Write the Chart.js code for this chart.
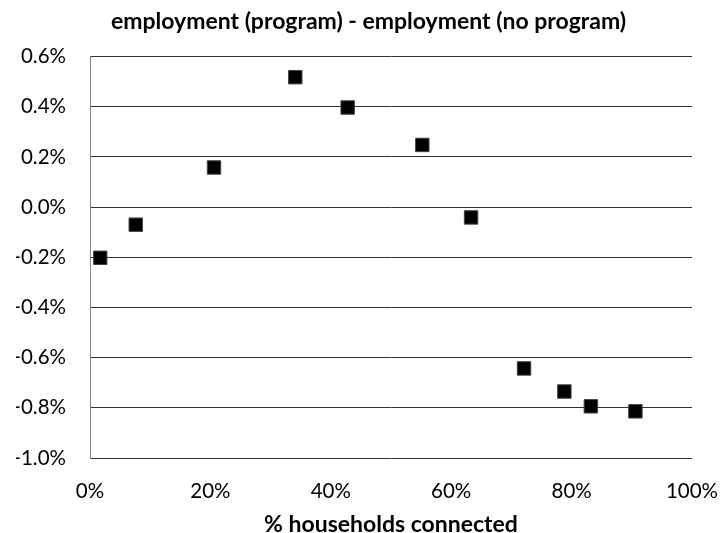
<!DOCTYPE html>
<html>
<head>
<meta charset="utf-8">
<script src="https://cdn.jsdelivr.net/npm/chart.js@4.4.0/dist/chart.umd.min.js"></script>
<style>
  html, body { margin: 0; padding: 0; background: #fff; }
  #wrap { width: 721px; height: 533px; }
</style>
</head>
<body>
<div id="wrap"><canvas id="scatterChart" width="721" height="533"></canvas></div>
<script>
// % households connected vs employment difference (in %)
const connected = [1.7, 7.6, 20.6, 34.1, 42.8, 55.2, 63.3, 72.1, 78.8, 83.2, 90.6];
const empDiff = [-0.202, -0.070, 0.158, 0.518, 0.397, 0.248, -0.041, -0.643, -0.735, -0.794, -0.814];

const xTicks = [0, 20, 40, 60, 80, 100];
const yTicks = [-1.0, -0.8, -0.6, -0.4, -0.2, 0.0, 0.2, 0.4, 0.6];

const fontFamily = 'Lato, "Noto Sans", sans-serif';

document.addEventListener('DOMContentLoaded', () => {
    const ctx = document.getElementById('scatterChart').getContext('2d');

    new Chart(ctx, {
        type: 'scatter',
        data: {
            datasets: [{
                data: connected.map((x, i) => ({ x: x, y: empDiff[i] })),
                pointStyle: 'rect',
                pointRadius: 9.5,
                pointHoverRadius: 9.5,
                backgroundColor: '#000',
                borderColor: '#444',
                borderWidth: 1
            }]
        },
        options: {
            responsive: false,
            animation: false,
            layout: {
                padding: { left: 16, right: 0, top: 0, bottom: 0 }
            },
            plugins: {
                legend: { display: false },
                tooltip: { enabled: false },
                title: {
                    display: true,
                    text: 'employment (program) - employment (no program)',
                    color: '#000',
                    font: { family: fontFamily, size: 23, weight: 'bold' },
                    padding: { top: 8, bottom: 21 }
                }
            },
            scales: {
                x: {
                    type: 'linear',
                    min: 0,
                    max: 100,
                    afterBuildTicks: axis => { axis.ticks = xTicks.map(v => ({ value: v })); },
                    afterFit: axis => {
                        axis.height = 75;
                        axis.paddingLeft = 0;
                        axis.paddingRight = 29;
                    },
                    grid: { display: false, drawTicks: false },
                    border: { display: false },
                    ticks: {
                        color: '#000',
                        padding: 21,
                        font: { family: fontFamily, size: 20.5 },
                        callback: v => v + '%'
                    },
                    title: {
                        display: true,
                        text: '% households connected',
                        color: '#000',
                        font: { family: fontFamily, size: 23, weight: 'bold', lineHeight: 1 },
                        padding: { top: 0, bottom: -3 }
                    }
                },
                y: {
                    type: 'linear',
                    min: -1.0,
                    max: 0.6,
                    afterBuildTicks: axis => { axis.ticks = yTicks.map(v => ({ value: v })); },
                    afterFit: axis => { axis.width = 74; },
                    grid: {
                        color: '#333',
                        lineWidth: 1,
                        drawTicks: false
                    },
                    border: { display: true, color: '#888', width: 1 },
                    ticks: {
                        color: '#000',
                        padding: 24,
                        font: { family: fontFamily, size: 20.5 },
                        callback: v => v.toFixed(1) + '%'
                    }
                }
            }
        }
    });
});
</script>
</body>
</html>
